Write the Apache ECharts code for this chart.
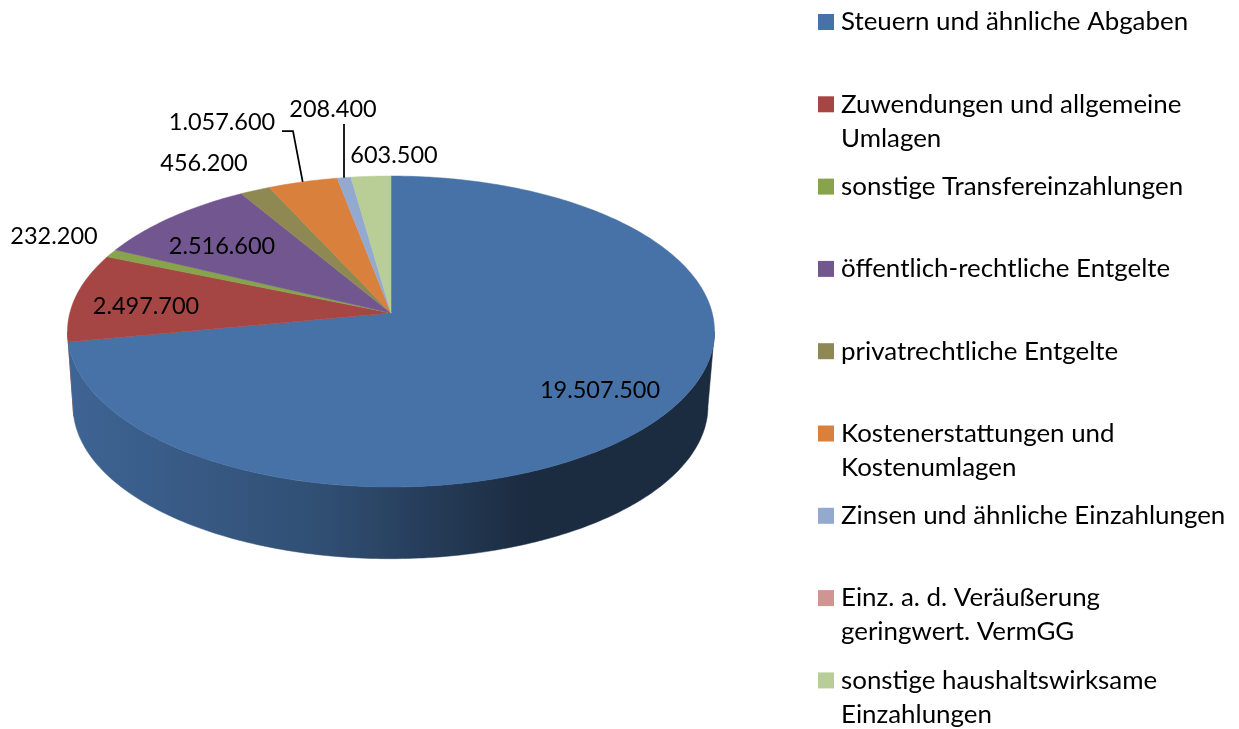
<!DOCTYPE html>
<html>
<head>
<meta charset="utf-8">
<title>Einzahlungen</title>
<script src="https://cdn.jsdelivr.net/npm/echarts@6/dist/echarts.min.js"></script>
<style>
html, body { margin: 0; padding: 0; background: #fff; }
#chart { width: 1239px; height: 729px; }
</style>
</head>
<body>
<div id="chart"></div>
<script>
// legend names, \n = where the legend breaks the line
var categories = [
    'Steuern und ähnliche Abgaben',
    'Zuwendungen und allgemeine\nUmlagen',
    'sonstige Transfereinzahlungen',
    'öffentlich-rechtliche Entgelte',
    'privatrechtliche Entgelte',
    'Kostenerstattungen und\nKostenumlagen',
    'Zinsen und ähnliche Einzahlungen',
    'Einz. a. d. Veräußerung\ngeringwert. VermGG',
    'sonstige haushaltswirksame\nEinzahlungen'
];
var values = [19507500, 2497700, 232200, 2516600, 456200, 1057600, 208400, 0, 603500];
var colors = ['#4672a8', '#a64644', '#87a34b', '#725690', '#8e8852', '#d8803c', '#93a9cf', '#d09492', '#b9cd96'];

// where the value labels sit (centre of text), null = no label
var labelAt = [[600, 390], [146, 306], [54, 236], [222, 246], [204, 163], [222, 122], [333, 109], null, [394, 155]];
// leader line start points, the line ends on the slice rim
var leaders = [null, null, null, null, null, [[282, 131], [293, 131]], [[344, 124]], null, null];

var FONT = 'Lato';
var LABEL_SIZE = 23.5;
var LEGEND_SIZE = 25.9;
var LEGEND_STEP = 82.3;

// the disc seen in perspective, k = how much the front gets bigger
var K = 0.119;
var TOP_DISC = { cx: 391, cy: 313, rx: 321.2, ry: 153.3 };
var BOTTOM_DISC = { cx: 390.5, cy: 388, rx: 315.2, ry: 150.4 };
// only this part of the side wall can be seen (tangent points left and right)
var WALL_FROM = Math.acos(-K);
var WALL_TO = Math.PI * 2 - WALL_FROM;

function project(disc, a) {
    var u = Math.sin(a);
    var v = -Math.cos(a);
    var w = 1 - K * v;
    return [disc.cx + disc.rx * u / w, disc.cy + disc.ry * v / w];
}

function rim(disc, a0, a1) {
    var n = Math.max(2, Math.ceil(Math.abs(a1 - a0) / 0.015));
    var pts = [];
    for (var i = 0; i <= n; i++) {
        pts.push(project(disc, a0 + (a1 - a0) * i / n));
    }
    return pts;
}

function shade(hex, f) {
    var c = echarts.color.parse(hex);
    return 'rgb(' + Math.round(c[0] * f) + ',' + Math.round(c[1] * f) + ',' + Math.round(c[2] * f) + ')';
}

var total = values.reduce(function (s, v) { return s + v; }, 0);

function makeRender(idx) {
    var color = colors[idx];
    var wallFill = new echarts.graphic.LinearGradient(73, 0, 708, 0, [
        { offset: 0, color: shade(color, 0.88) },
        { offset: 0.4, color: shade(color, 0.68) },
        { offset: 0.72, color: shade(color, 0.38) },
        { offset: 1, color: shade(color, 0.38) }
    ], true);

    return function (params, api) {
        var value = api.value(0);
        if (!value) return { type: 'group', children: [] };
        var before = api.value(1);
        var a0 = echarts.number.linearMap(before, [0, total], [0, Math.PI * 2]);
        var a1 = echarts.number.linearMap(before + value, [0, total], [0, Math.PI * 2]);
        var children = [];

        var w0 = Math.max(a0, WALL_FROM);
        var w1 = Math.min(a1, WALL_TO);
        if (w1 > w0) {
            // earlier slices lie in front of later ones on the left
            children.push({
                type: 'polygon',
                z2: 1 + categories.length - idx,
                shape: { points: rim(TOP_DISC, w0, w1).concat(rim(BOTTOM_DISC, w1, w0)) },
                style: { fill: wallFill, stroke: wallFill, lineWidth: 0.5 }
            });
        }

        var topPts = [[TOP_DISC.cx, TOP_DISC.cy]].concat(rim(TOP_DISC, a0, a1));
        children.push({
            type: 'polygon',
            z2: 20,
            shape: { points: topPts },
            style: { fill: color, stroke: color, lineWidth: 0.5 }
        });

        if (leaders[idx]) {
            children.push({
                type: 'polyline',
                z2: 30,
                shape: { points: leaders[idx].concat([project(TOP_DISC, (a0 + a1) / 2)]) },
                style: { fill: null, stroke: '#000', lineWidth: 1.75 }
            });
        }
        if (labelAt[idx]) {
            children.push({
                type: 'text',
                z2: 40,
                style: {
                    text: echarts.format.addCommas(value).replace(/,/g, '.'),
                    x: labelAt[idx][0],
                    y: labelAt[idx][1],
                    align: 'center',
                    verticalAlign: 'middle',
                    fontFamily: FONT,
                    fontSize: LABEL_SIZE,
                    fill: '#000'
                }
            });
        }
        return { type: 'group', children: children };
    };
}

var cum = 0;
var series = categories.map(function (name, i) {
    var row = [values[i], cum];
    cum += values[i];
    return {
        type: 'custom',
        name: name.replace('\n', ' '),
        coordinateSystem: 'none',
        silent: true,
        animation: false,
        itemStyle: { color: colors[i] },
        data: [row],
        renderItem: makeRender(i)
    };
});

var legends = categories.map(function (name, i) {
    return {
        data: [{ name: name.replace('\n', ' '), icon: 'rect' }],
        left: 818,
        top: 21 + LEGEND_STEP * i - 17,
        padding: 0,
        itemWidth: 16,
        itemHeight: 16,
        selectedMode: false,
        formatter: function () { return name.split('\n')[0]; },
        textStyle: { fontFamily: FONT, fontSize: LEGEND_SIZE, color: '#000', lineHeight: 36, padding: [0, 0, 0, 2] }
    };
});

// second lines of the legend texts, the icon stays with the first line
var titles = [];
categories.forEach(function (name, i) {
    var parts = name.split('\n');
    if (parts.length > 1) {
        titles.push({
            text: parts[1],
            left: 841,
            top: 21 + LEGEND_STEP * i + 18,
            padding: 0,
            textStyle: { fontFamily: FONT, fontSize: LEGEND_SIZE, fontWeight: 'normal', color: '#000', lineHeight: 34 }
        });
    }
});

var chart = echarts.init(document.getElementById('chart'));
chart.setOption({
    animation: false,
    backgroundColor: '#fff',
    tooltip: { show: false },
    title: titles,
    legend: legends,
    series: series
});
</script>
</body>
</html>
